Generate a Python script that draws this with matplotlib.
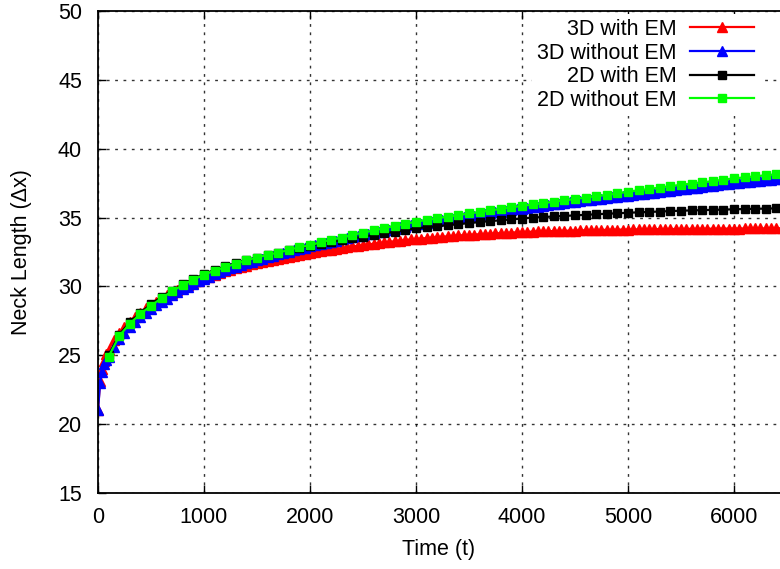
#!/usr/bin/env python3
# -*- coding: utf-8 -*-
"""
Neck length growth over time, 3D vs 2D, with and without EM
"""

import numpy as np
import matplotlib
matplotlib.use('Agg')
import matplotlib.pyplot as plt

plt.rcParams['font.family'] = ['Liberation Sans', 'DejaVu Sans']

#%% Data

# 3D runs: saved every 20 steps at the start, then every 50
t_3d = [0, 20, 40, 60, 80] + list(range(100, 6451, 50))

neck_3d_em = [21.0, 23.1, 24.0, 24.6, 25.1,
              25.4, 26.1, 26.6, 27.05, 27.45, 27.8, 28.1, 28.4, 28.65, 28.9,
              29.15, 29.35, 29.55, 29.75, 29.95, 30.12, 30.28, 30.43, 30.58,
              30.72, 30.85, 30.97, 31.09, 31.2, 31.31, 31.41, 31.51, 31.6,
              31.69, 31.78, 31.86, 31.94, 32.02, 32.09, 32.16, 32.23, 32.3,
              32.36, 32.42, 32.49, 32.55, 32.61, 32.67, 32.73, 32.79, 32.84,
              32.9, 32.95, 33.0, 33.05, 33.1, 33.15, 33.19, 33.24, 33.28,
              33.33, 33.37, 33.41, 33.45, 33.48, 33.51, 33.55, 33.58, 33.61,
              33.64, 33.67, 33.7, 33.72, 33.75, 33.77, 33.79, 33.81, 33.83,
              33.85, 33.87, 33.89, 33.91, 33.93, 33.95, 33.96, 33.98, 33.99,
              34.0, 34.01, 34.02, 34.03, 34.04, 34.05, 34.06, 34.07, 34.08,
              34.09, 34.1, 34.1, 34.11, 34.12, 34.12, 34.13, 34.13, 34.14,
              34.14, 34.15, 34.15, 34.16, 34.16, 34.16, 34.17, 34.17, 34.17,
              34.18, 34.18, 34.18, 34.19, 34.19, 34.19, 34.19, 34.2, 34.2,
              34.2, 34.2, 34.21, 34.21, 34.21, 34.21, 34.21, 34.22, 34.22,
              34.22]

neck_3d_noem = [21.0, 23.0, 23.8, 24.4, 24.65,
                24.85, 25.6, 26.15, 26.65, 27.05, 27.4, 27.75, 28.05, 28.35,
                28.62, 28.88, 29.12, 29.35, 29.57, 29.78, 29.98, 30.17, 30.36,
                30.55, 30.72, 30.88, 31.03, 31.18, 31.31, 31.44, 31.56, 31.68,
                31.8, 31.91, 32.02, 32.12, 32.22, 32.32, 32.42, 32.52, 32.62,
                32.71, 32.81, 32.9, 32.99, 33.07, 33.16, 33.24, 33.33, 33.41,
                33.5, 33.58, 33.67, 33.75, 33.83, 33.9, 33.98, 34.05, 34.13,
                34.2, 34.28, 34.35, 34.43, 34.5, 34.56, 34.62, 34.68, 34.74,
                34.8, 34.86, 34.92, 34.98, 35.04, 35.1, 35.15, 35.21, 35.26,
                35.32, 35.37, 35.43, 35.48, 35.54, 35.59, 35.65, 35.7, 35.75,
                35.8, 35.85, 35.9, 35.95, 36.0, 36.05, 36.1, 36.15, 36.19,
                36.24, 36.28, 36.33, 36.37, 36.42, 36.46, 36.51, 36.55, 36.6,
                36.64, 36.69, 36.73, 36.78, 36.82, 36.87, 36.91, 36.96, 37.0,
                37.05, 37.09, 37.14, 37.18, 37.23, 37.27, 37.32, 37.36, 37.41,
                37.45, 37.5, 37.53, 37.57, 37.6, 37.63, 37.67, 37.7, 37.73,
                37.77, 37.8]

# 2D runs: saved every 100 steps
t_2d = list(range(100, 6501, 100))

neck_2d_em = [25.0, 26.5, 27.4, 28.1, 28.7, 29.25, 29.7, 30.15, 30.55, 30.9,
              31.2, 31.45, 31.7, 31.9, 32.1, 32.3, 32.45, 32.65, 32.8, 32.95,
              33.1, 33.25, 33.35, 33.5, 33.6, 33.75, 33.85, 33.97, 34.1, 34.22,
              34.3, 34.37, 34.45, 34.52, 34.6, 34.67, 34.75, 34.8, 34.87,
              34.93, 35.0, 35.04, 35.08, 35.12, 35.16, 35.2, 35.24, 35.28,
              35.31, 35.35, 35.38, 35.41, 35.44, 35.47, 35.5, 35.52, 35.54,
              35.56, 35.58, 35.6, 35.62, 35.64, 35.65, 35.67, 35.68]

neck_2d_noem = [24.9, 26.4, 27.3, 28.0, 28.6, 29.15, 29.65, 30.1, 30.5, 30.85,
                31.15, 31.4, 31.65, 31.9, 32.1, 32.3, 32.45, 32.65, 32.85,
                33.0, 33.2, 33.4, 33.55, 33.75, 33.9, 34.07, 34.23, 34.4,
                34.55, 34.7, 34.83, 34.95, 35.07, 35.18, 35.3, 35.4, 35.52,
                35.63, 35.75, 35.85, 35.95, 36.05, 36.15, 36.25, 36.35, 36.45,
                36.55, 36.65, 36.75, 36.88, 36.98, 37.08, 37.18, 37.28, 37.38,
                37.47, 37.56, 37.65, 37.75, 37.85, 37.92, 38.0, 38.07, 38.15,
                38.22]

labels = ['3D with EM', '3D without EM', '2D with EM', '2D without EM']
colors = ['#ff0000', '#0000ff', '#000000', '#00ff00']

#%% Plot

fig = plt.figure(figsize=(7.8, 5.69), dpi=100)
ax = fig.add_axes([98 / 780, 76 / 569, 682 / 780, 482 / 569])

ax.plot(t_3d, neck_3d_em, color=colors[0], lw=1.6, marker='^', ms=7.5,
        label=labels[0])
ax.plot(t_3d, neck_3d_noem, color=colors[1], lw=1.6, marker='^', ms=7.5,
        label=labels[1])
ax.plot(t_2d, neck_2d_em, color=colors[2], lw=1.6, marker='s', ms=6,
        label=labels[2])
ax.plot(t_2d, neck_2d_noem, color=colors[3], lw=1.6, marker='s', ms=6,
        label=labels[3])

ax.set_xlim(0, 6434)
ax.set_ylim(15, 50)
ax.set_xticks(np.arange(0, 6001, 1000))
ax.set_yticks(np.arange(15, 51, 5))
ax.grid(True, color='black', linestyle=(0, (2, 4)), lw=1.0, alpha=0.8)
ax.spines['right'].set_visible(False)
for s in ['left', 'bottom', 'top']:
    ax.spines[s].set_linewidth(1.3)
    ax.spines[s].set_zorder(3)
ax.tick_params(direction='in', top=True, right=False, length=6, width=1,
               labelsize=15.5)
ax.tick_params(axis='x', pad=10)
ax.tick_params(axis='y', pad=11.5)

ax.set_xlabel('Time (t)', fontsize=15.5, labelpad=8)
ax.set_ylabel('Neck Length (\u0394x)', fontsize=15.5, labelpad=19)

leg = ax.legend(loc='upper right', bbox_to_anchor=(0.986, 1.017),
                markerfirst=False, fontsize=15.5, handlelength=3.0,
                handletextpad=0.6, labelspacing=0.12, borderpad=0.25,
                frameon=True, fancybox=False, framealpha=1.0,
                edgecolor='none', facecolor='white', numpoints=1)
for txt in leg.get_texts():
    txt.set_ha('right')
leg._legend_box.align = 'right'
leg.set_zorder(2.2)

fig.savefig('out.png', dpi=100)
